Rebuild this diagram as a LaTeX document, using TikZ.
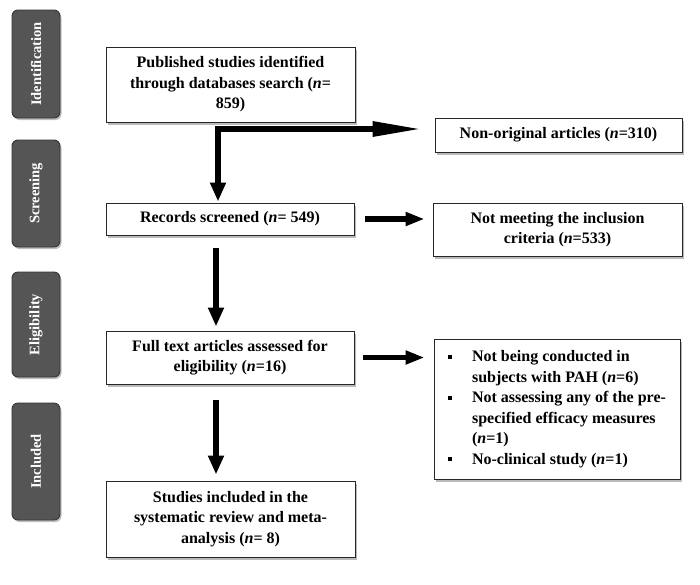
\documentclass[tikz,border=0pt]{standalone}
\usepackage{fontspec}
\setmainfont{Liberation Serif}
\usetikzlibrary{arrows.meta,shadows,calc}
\definecolor{phase}{HTML}{555555}
\definecolor{phaseline}{HTML}{333333}
\tikzset{
  box/.style={draw=black!85, line width=0.9pt, fill=white, inner sep=0pt,
    align=center, font=\bfseries\fontsize{16}{20.5}\selectfont,
    drop shadow={shadow xshift=2pt, shadow yshift=-3pt, fill=black!45, opacity=0.6}},
  phasebox/.style={draw=phaseline, line width=0.9pt, fill=phase, rounded corners=6pt,
    rotate=90, inner sep=0pt, text=white, font=\bfseries\fontsize{14.5}{17}\selectfont,
    drop shadow={shadow xshift=1.5pt, shadow yshift=-2pt, fill=black!50, opacity=0.5}},
  flow/.style={line width=6pt, -{Triangle[length=19pt,width=15pt]}},
  side/.style={line width=5.5pt, -{Triangle[length=19pt,width=13pt]}},
}
\begin{document}
\begin{tikzpicture}[x=1pt,y=-1pt]
\useasboundingbox (0,0) rectangle (700,584);
% phase labels
\node[phasebox, minimum width=108pt, minimum height=48pt] (pid) at (36,64) {Identification};
\node[phasebox, minimum width=107pt, minimum height=48pt] (psc) at (36,193.5) {Screening};
\node[phasebox, minimum width=105pt, minimum height=48pt] (pel) at (36,324.5) {Eligibility};
\node[phasebox, minimum width=117pt, minimum height=48pt] (pin) at (36,461.5) {Included};
% main boxes
\node[box, minimum width=249pt, minimum height=75pt] (pub) at (230.5,84.5)
  {Published studies identified\\through databases search (\textit{n}=\\859)};
\node[box, minimum width=247pt, minimum height=34pt] (non) at (558.5,135)
  {Non-original articles (\textit{n}=310)};
\node[box, minimum width=248pt, minimum height=32pt] (rec) at (230,219)
  {Records screened (\textit{n}= 549)};
\node[box, minimum width=249pt, minimum height=53pt] (nmi) at (557.5,229.5)
  {Not meeting the inclusion\\criteria (\textit{n}=533)};
\node[box, minimum width=248pt, minimum height=53pt] (ful) at (230,357.5)
  {Full text articles assessed for\\eligibility (\textit{n}=16)};
\node[box, minimum width=246pt, minimum height=140pt] (exc) at (557,409)
  {\begin{tabular}{@{}l@{\hspace{20pt}}l@{}}
   \raisebox{3pt}{\rule{4pt}{4pt}} & Not being conducted in\\
   & subjects with PAH (\textit{n}=6)\\
   \raisebox{3pt}{\rule{4pt}{4pt}} & Not assessing any of the pre-\\
   & specified efficacy measures\\
   & (\textit{n}=1)\\
   \raisebox{3pt}{\rule{4pt}{4pt}} & No-clinical study (\textit{n}=1)
   \end{tabular}};
\node[box, minimum width=249pt, minimum height=76pt] (inc) at (230.5,519)
  {Studies included in the\\systematic review and meta-\\analysis (\textit{n}= 8)};
% connectors
\coordinate (ax) at (216,0);
\coordinate (corner) at (218,129);
\draw[line width=6pt, {Triangle[length=19pt,width=15pt]}-{Triangle[length=50pt,width=14pt]},
      shorten <=1pt, shorten >=12pt]
  (corner |- rec.north) -- (corner) -- (corner -| non.west);
\draw[side, shorten <=11pt, shorten >=8pt] (rec.east) -- (rec.east -| nmi.west);
\draw[side, shorten <=9pt, shorten >=9pt] (ful.east) -- (ful.east -| exc.west);
\draw[flow, shorten <=13pt, shorten >=4pt] (rec.south -| ax) -- (ful.north -| ax);
\draw[flow, shorten <=16pt, shorten >=6pt] (ful.south -| ax) -- (inc.north -| ax);
\end{tikzpicture}
\end{document}
